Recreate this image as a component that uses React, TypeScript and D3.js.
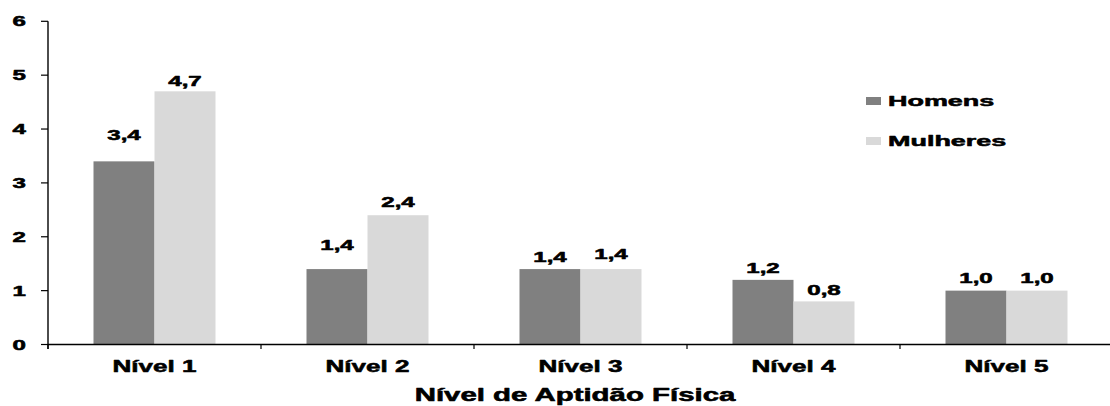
import React from "react";
import * as d3 from "d3";

const categories = ["Nível 1", "Nível 2", "Nível 3", "Nível 4", "Nível 5"];
const seriesNames = ["Homens", "Mulheres"];
const homens = [3.4, 1.4, 1.4, 1.2, 1.0];
const mulheres = [4.7, 2.4, 1.4, 0.8, 1.0];
const yTicks = [0, 1, 2, 3, 4, 5, 6];
const xTitle = "Nível de Aptidão Física";

// distance (px) between each value label's baseline and its bar top
const labelGapH = [21, 19, 7, 7, 7.5];
const labelGapM = [5, 8, 10, 6, 7.5];

const colors = ["#808080", "#d9d9d9"];
const W = 1110;
const H = 406;
const left = 48;
const bandW = 213;
const barW = 61;

const y = d3.scaleLinear().domain([0, 6]).range([344.5, 21.3]);
const x = d3
  .scaleBand<string>()
  .domain(categories)
  .range([left, left + bandW * categories.length]);

function Stretched({
  x,
  y,
  sx,
  size,
  anchor = "middle",
  children,
}: {
  x: number;
  y: number;
  sx: number;
  size: number;
  anchor?: string;
  children: React.ReactNode;
}) {
  return (
    <text
      transform={`translate(${x},${y}) scale(${sx},1)`}
      textAnchor={anchor}
      fontSize={size}
      fill="#000"
      stroke="#000"
      strokeWidth={0.55}
      strokeLinejoin="round"
    >
      {children}
    </text>
  );
}

const fmt = (v: number) => v.toFixed(1).replace(".", ",");

export default function App() {
  const series = [homens, mulheres];
  const gaps = [labelGapH, labelGapM];
  const y0 = y(0);
  return (
    <svg
      width={W}
      height={H}
      style={{ position: "absolute", left: 0, top: 0, background: "#fff" }}
      fontFamily="'Liberation Sans', Arial, sans-serif"
      fontWeight="bold"
    >
      {/* bars */}
      {series.map((vals, s) =>
        vals.map((v, i) => {
          const c = x(categories[i])! + bandW / 2;
          const bx = c - barW + s * barW;
          return (
            <rect
              key={`b${s}-${i}`}
              x={bx}
              y={y(v)}
              width={barW}
              height={y0 - y(v)}
              fill={colors[s]}
            />
          );
        })
      )}
      {/* value labels */}
      {series.map((vals, s) =>
        vals.map((v, i) => {
          const c = x(categories[i])! + bandW / 2;
          const cx = c - barW / 2 + s * barW;
          return (
            <Stretched
              key={`l${s}-${i}`}
              x={cx}
              y={y(v) - gaps[s][i]}
              sx={1.72}
              size={14}
            >
              {fmt(v)}
            </Stretched>
          );
        })
      )}
      {/* y axis */}
      <line x1={left} x2={left} y1={y(6)} y2={y0 + 4.5} stroke="#000" strokeWidth={1.4} />
      {yTicks.map((t) => (
        <g key={`t${t}`}>
          <line x1={left - 7} x2={left} y1={y(t)} y2={y(t)} stroke="#000" strokeWidth={1.2} />
          <Stretched x={26} y={y(t) + 5} sx={1.72} size={14} anchor="end">
            {t}
          </Stretched>
        </g>
      ))}
      {/* x axis */}
      <line x1={left} x2={W} y1={y0} y2={y0} stroke="#000" strokeWidth={1.4} />
      {categories.map((c, i) => (
        <line
          key={`xt${i}`}
          x1={x(c)!}
          x2={x(c)!}
          y1={y0}
          y2={y0 + 4.5}
          stroke="#000"
          strokeWidth={1.2}
        />
      ))}
      {categories.map((c) => (
        <Stretched key={`xl${c}`} x={x(c)! + bandW / 2} y={372} sx={1.58} size={16.5}>
          {c}
        </Stretched>
      ))}
      <Stretched x={575} y={400.5} sx={1.68} size={17.5}>
        {xTitle}
      </Stretched>
      {/* legend */}
      {seriesNames.map((n, i) => (
        <g key={`lg${n}`}>
          <rect x={866} y={97 + i * 40} width={15} height={8} fill={colors[i]} />
          <Stretched x={888} y={106 + i * 40} sx={1.75} size={15.4} anchor="start">
            {n}
          </Stretched>
        </g>
      ))}
    </svg>
  );
}
